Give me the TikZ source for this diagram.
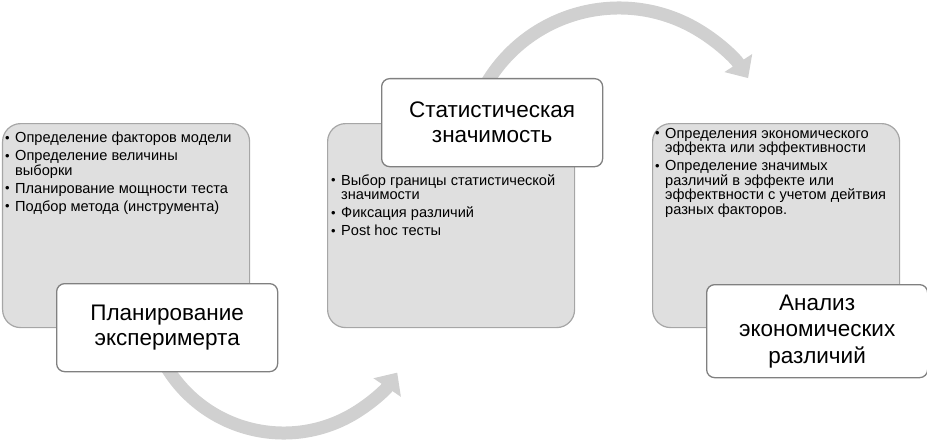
\documentclass[tikz,border=0pt]{standalone}
\usepackage{fontspec}
\setmainfont{Liberation Sans}
\usetikzlibrary{arrows.meta}
\definecolor{boxfill}{HTML}{DFDFDF}
\definecolor{boxline}{HTML}{A6A6A6}
\definecolor{titleline}{HTML}{808080}
\definecolor{arrowc}{HTML}{D0D0D0}
\newcommand\bu{\makebox[10pt][l]{\raisebox{0.5pt}{\fontsize{13}{13}\selectfont •}}}
\newcommand\ind{\hspace*{10pt}}
\begin{document}
\begin{tikzpicture}[x=1pt,y=1pt,
 graybox/.style={draw=boxline, fill=boxfill, line width=1.2pt, rounded corners=18pt, minimum width=247pt, minimum height=204pt, anchor=north west, inner sep=0pt},
 titlebox/.style={draw=titleline, fill=white, line width=1.3pt, rounded corners=8pt, minimum width=221pt, minimum height=88pt, anchor=north west, align=center, font=\fontsize{22.5}{25}\selectfont, inner sep=0pt},
 bodytext/.style={anchor=north west, align=left, inner sep=0pt, font=\fontsize{14.6}{14.5}\selectfont},
 flow/.style={draw=arrowc, line width=13pt, -{Triangle[length=18pt, width=32pt]}}
]
\useasboundingbox (0,0) rectangle (927,-444);

% curved arrows (behind boxes)
\coordinate (a1s) at (165,-364.5);
\coordinate (a2s) at (485.6,-85);
\draw[flow] (a1s) arc[start angle=210, end angle=326, radius=137];
\draw[flow] (a2s) arc[start angle=150, end angle=33, radius=154];

% gray content boxes
\node[graybox] (g1) at (2,-123) {};
\node[graybox] (g2) at (327,-123) {};
\node[graybox] (g3) at (652,-123) {};

% body texts
\node[bodytext] (t1) at (5,-132) {\bu Определение факторов модели\\[3.5pt]
\bu Определение величины\\ \ind выборки\\[3.5pt]
\bu Планирование мощности теста\\[3.5pt]
\bu Подбор метода (инструмента)};
\node[bodytext] (t2) at (331,-174) {\bu Выбор границы статистической\\ \ind значимости\\[3.5pt]
\bu Фиксация различий\\[3.5pt]
\bu Post hoc тесты};
\node[bodytext] (t3) at (655,-128) {\bu Определения экономического\\ \ind эффекта или эффективности\\[3.5pt]
\bu Определение значимых\\ \ind различий в эффекте или\\ \ind эффектвности с учетом дейтвия\\ \ind разных факторов.};

% title boxes
\node[titlebox] (h1) at (56,-283) {Планирование\\эксперимерта};
\node[titlebox] (h2) at (381,-78) {Статистическая\\значимость};
\node[titlebox, minimum height=93pt, font=\fontsize{22.5}{26.5}\selectfont] (h3) at (706,-284) {Анализ\\экономических\\различий};
\end{tikzpicture}
\end{document}
